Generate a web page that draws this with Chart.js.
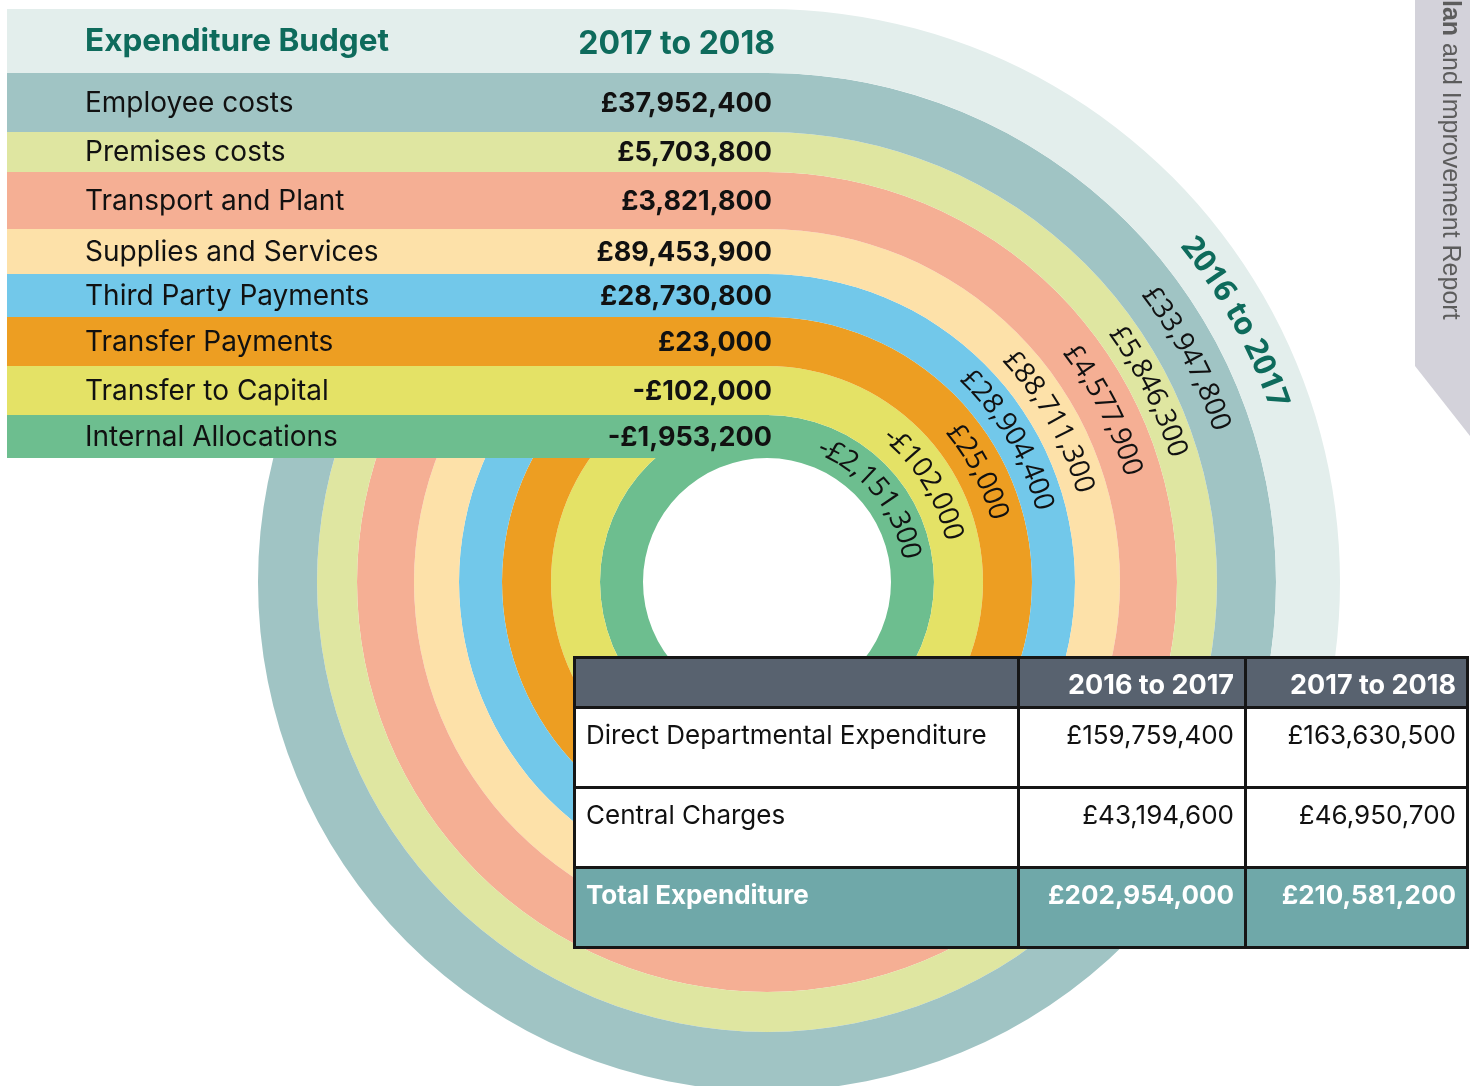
<!DOCTYPE html>
<html>
<head>
<meta charset="utf-8">
<script src="https://cdn.jsdelivr.net/npm/chart.js@4.4.1/dist/chart.umd.min.js"></script>
<style>
  html, body { margin: 0; padding: 0; background: #fff; overflow: hidden; }
  #wrap { position: relative; width: 1470px; height: 1086px; overflow: hidden; }
  #rings { position: absolute; left: 0; top: 0; }
  #summary {
    position: absolute; left: 573px; top: 656px; width: 893px;
    border-collapse: collapse; table-layout: fixed;
    font-family: Inter, sans-serif;
  }
  #summary th, #summary td { border: 3px solid #161616; padding: 0 10px; }
  #summary th {
    background: #58626f; color: #fff; font-size: 27px; font-weight: 700;
    text-align: right; height: 44px; vertical-align: middle; padding-top: 3px;
  }
  #summary td {
    background: #fff; color: #111; font-size: 26px; text-align: right;
    vertical-align: top; height: 67px; padding-top: 10px;
  }
  #summary td:first-child { text-align: left; }
  #summary tr.total td { background: #6fa8a9; color: #fff; font-weight: 700; }
  #tab {
    position: absolute; left: 1415px; top: 0; width: 55px; height: 436px;
    background: #d3d2da;
    clip-path: polygon(0 0, 100% 0, 100% 436px, 0 366px);
  }
  #tabText {
    position: absolute; left: 1437px; top: 0; width: 30px;
    writing-mode: vertical-rl; line-height: 30px;
    font-family: "Liberation Sans", Arial, sans-serif; font-size: 25px; color: #5c5c5c;
    white-space: nowrap;
  }
</style>
</head>
<body>
<div id="wrap">
  <canvas id="rings" width="1470" height="1160"></canvas>
  <table id="summary">
    <colgroup><col style="width:444px"><col style="width:227px"><col style="width:222px"></colgroup>
    <thead><tr><th></th><th id="p1"></th><th id="p2"></th></tr></thead>
    <tbody id="sbody"></tbody>
  </table>
  <div id="tab"></div>
  <div id="tabText"><b>lan</b> and Improvement Report</div>
</div>
<script>
// --- data ---
const title = "Expenditure Budget";
const periods = ["2016 to 2017", "2017 to 2018"];
const categories = [
  "Employee costs", "Premises costs", "Transport and Plant", "Supplies and Services",
  "Third Party Payments", "Transfer Payments", "Transfer to Capital", "Internal Allocations"
];
const budget2017 = [33947800, 5846300, 4577900, 88711300, 28904400, 25000, -102000, -2151300];
const budget2018 = [37952400, 5703800, 3821800, 89453900, 28730800, 23000, -102000, -1953200];
const summaryLabels = ["Direct Departmental Expenditure", "Central Charges", "Total Expenditure"];
const summary2017 = [159759400, 43194600, 202954000];
const summary2018 = [163630500, 46950700, 210581200];

// --- look ---
const headerColor = "#e3eeec";
const ringColors = ["#a0c4c4", "#dfe6a1", "#f5af94", "#fde1a9", "#72c8ea", "#ed9e22", "#e4e266", "#6dbe8f"];
const ringWidths = [64, 59, 40, 57, 45, 43, 49, 49, 43];           // header arc first
const labelAngles = [61, 62, 63.5, 63, 60.5, 59.5, 62.5, 58, 51];  // degrees from 12 o'clock
const teal = "#0e6b5c";

function money(v) {
  const s = Math.abs(v).toString().replace(/\B(?=(\d{3})+(?!\d))/g, ",");
  return (v < 0 ? "-£" : "£") + s;
}

// --- summary table ---
document.getElementById("p1").textContent = periods[0];
document.getElementById("p2").textContent = periods[1];
document.getElementById("sbody").innerHTML = summaryLabels.map((l, i) => `
  <tr class="${i === summaryLabels.length - 1 ? "total" : ""}">
    <td>${l}</td><td>${money(summary2017[i])}</td><td>${money(summary2018[i])}</td>
  </tr>`).join("");

// --- curved labels ---
function arcText(ctx, text, cx, cy, r, deg) {
  const total = ctx.measureText(text).width;
  let a = deg * Math.PI / 180 - total / (2 * r);
  for (const ch of text) {
    const w = ctx.measureText(ch).width;
    const ang = a + w / (2 * r);
    ctx.save();
    ctx.translate(cx + r * Math.sin(ang), cy - r * Math.cos(ang));
    ctx.rotate(ang);
    ctx.fillText(ch, 0, 0);
    ctx.restore();
    a += w / r;
  }
}

const overlay = {
  id: "overlay",
  afterDatasetsDraw(chart) {
    const ctx = chart.ctx;
    const arcs = chart.data.datasets.map((d, i) => chart.getDatasetMeta(i).data[0]);
    const cx = arcs[0].x, cy = arcs[0].y;
    ctx.save();

    // rows on the left, one per ring
    arcs.forEach((arc, i) => {
      const top = cy - arc.outerRadius;
      const bottom = cy - arc.innerRadius;
      const mid = (top + bottom) / 2 + 1;
      ctx.fillStyle = i === 0 ? headerColor : ringColors[i - 1];
      ctx.fillRect(7, top, cx + 2 - 7, bottom - top);
      ctx.textBaseline = "middle";
      if (i === 0) {
        ctx.fillStyle = teal;
        ctx.font = "bold 31.5px Inter";
        ctx.textAlign = "left";
        ctx.fillText(title, 85, mid);
        ctx.font = "bold 32px Inter";
        ctx.textAlign = "right";
        ctx.fillText(periods[1], 775, mid + 2);
      } else {
        ctx.fillStyle = "#111";
        ctx.font = "28px Inter";
        ctx.textAlign = "left";
        ctx.fillText(categories[i - 1], 85, mid);
        ctx.font = "bold 27px Inter";
        ctx.textAlign = "right";
        ctx.fillText(money(budget2018[i - 1]), 772, mid);
      }
    });

    // values along the rings
    ctx.textAlign = "center";
    ctx.textBaseline = "middle";
    arcs.forEach((arc, i) => {
      const r = (arc.outerRadius + arc.innerRadius) / 2;
      if (i === 0) {
        ctx.fillStyle = teal;
        ctx.font = "bold 31px 'Open Sans'";
        arcText(ctx, periods[0], cx, cy, r, labelAngles[0]);
      } else {
        ctx.fillStyle = "#111";
        ctx.font = "28px 'Open Sans'";
        arcText(ctx, money(budget2017[i - 1]), cx, cy, r, labelAngles[i]);
      }
    });
    ctx.restore();
  }
};

// --- rings ---
const datasets = [{
  label: periods[0],
  data: [1],
  backgroundColor: headerColor,
  circumference: 120,
  weight: ringWidths[0],
}].concat(categories.map((c, i) => ({
  label: c,
  data: [Math.abs(budget2017[i])],
  backgroundColor: ringColors[i],
  weight: ringWidths[i + 1],
})));

new Chart(document.getElementById("rings"), {
  type: "doughnut",
  data: { labels: ["value", "rest"], datasets },
  options: {
    responsive: false,
    animation: false,
    cutout: 124,
    borderWidth: 0,
    hoverOffset: 0,
    layout: { padding: { left: 194, right: 130, top: 9, bottom: 5 } },
    plugins: { legend: { display: false }, tooltip: { enabled: false } },
    events: [],
  },
  plugins: [overlay],
});
</script>
</body>
</html>
